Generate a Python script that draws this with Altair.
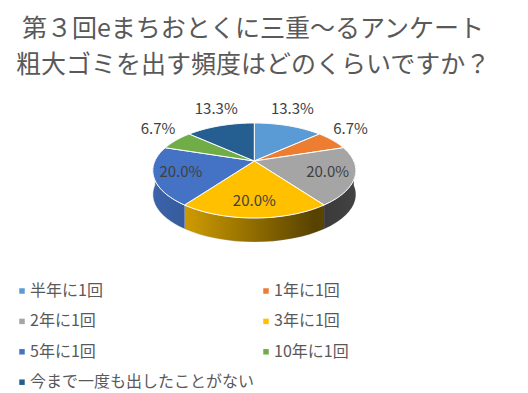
import altair as alt
import pandas as pd

categories = ["半年に1回", "1年に1回", "2年に1回", "3年に1回", "5年に1回", "10年に1回", "今まで一度も出したことがない"]
values = [13.3, 6.7, 20.0, 20.0, 20.0, 6.7, 13.3]
labels = ["13.3%", "6.7%", "20.0%", "20.0%", "20.0%", "6.7%", "13.3%"]
colors = ["#5B9BD5", "#ED7D31", "#A5A5A5", "#FFC000", "#4472C4", "#70AD47", "#255E91"]
title_lines = ["第３回eまちおとくに三重～るアンケート", "粗大ゴミを出す頻度はどのくらいですか？"]

df = pd.DataFrame({"cat": categories, "value": values, "label": labels,
                   "order": list(range(len(categories)))})

FONT = "Noto Sans CJK JP"
W, H = 512, 301
PAD_TOP = 84
CX, CY = 246.3, 69.0      # pie centre (plot coords)
A, B, D = 99.45, 45.6, 5.0  # perspective ellipse parameters
DEPTH = 24
N = 40


def proj(prefix, ang, r, shift="0"):
    u = f"(({r})*sin({ang}))"
    v = f"(-({r})*cos({ang}))"
    f = f"({D}/({D}-{v}))"
    return {prefix + "x": f"{CX}+{A}*{u}*{f}",
            prefix + "y": f"{CY}+{B}*{v}*{f}+({shift})"}


xs = alt.X("px:Q", scale=alt.Scale(domain=[0, W], nice=False, zero=False), axis=None)
ys = alt.Y("py:Q", scale=alt.Scale(domain=[0, H], nice=False, zero=False, reverse=True), axis=None)

legend = alt.Legend(title=None, orient="none", legendX=3, legendY=191, columns=2,
                    direction="horizontal",
                    symbolType="square", symbolSize=30, symbolStrokeWidth=0, symbolOffset=3,
                    labelFont=FONT, labelFontSize=16, labelColor="#595959",
                    labelLimit=300, rowPadding=14.4, columnPadding=0, labelOffset=0,
                    padding=0)
color = alt.Color("cat:N", scale=alt.Scale(domain=categories, range=colors),
                  sort=categories, legend=legend)

base = (alt.Chart(df)
        .transform_joinaggregate(total="sum(value)")
        .transform_window(cum="sum(value)", sort=[alt.SortField("order")], frame=[None, 0])
        .transform_calculate(a0="2*PI*(datum.cum-datum.value)/datum.total",
                             a1="2*PI*datum.cum/datum.total"))


def wall_geom(ch):
    return (ch.transform_filter("datum.w0 < datum.w1")
            .transform_calculate(idx=f"sequence(0,{2 * N + 2})")
            .transform_flatten(["idx"])
            .transform_calculate(bot=f"datum.idx>{N}?1:0",
                                 t=f"datum.idx<={N}?datum.idx/{N}:({2 * N + 1}-datum.idx)/{N}")
            .transform_calculate(ang="datum.w0+(datum.w1-datum.w0)*datum.t")
            .transform_calculate(**proj("p", "datum.ang", "1", f"datum.bot*{DEPTH}")))


walls = wall_geom(base.transform_calculate(w0="max(datum.a0, PI/2)",
                                           w1="min(datum.a1, 3*PI/2)")).mark_line(
    filled=True, stroke="white", strokeWidth=0.8, strokeJoin="round"
).encode(x=xs, y=ys, order="idx:Q", detail="cat:N", color=color)

shade = wall_geom(alt.Chart(df).transform_aggregate(n="count()")
                  .transform_calculate(w0="PI/2", w1="3*PI/2")).mark_line(
    filled=True, strokeWidth=0,
    fill=alt.LinearGradient(gradient="linear", x1=0, x2=1, y1=0, y2=0, stops=[
        alt.GradientStop(color="rgba(0,0,0,0.13)", offset=0),
        alt.GradientStop(color="rgba(0,0,0,0.22)", offset=0.2),
        alt.GradientStop(color="rgba(0,0,0,0.66)", offset=0.8),
        alt.GradientStop(color="rgba(0,0,0,0.6)", offset=1),
    ])
).encode(x=xs, y=ys, order="idx:Q")

tops = (base.transform_calculate(idx=f"sequence(0,{N + 3})")
        .transform_flatten(["idx"])
        .transform_calculate(r=f"(datum.idx==0||datum.idx=={N + 2})?0:1",
                             ang=f"datum.a0+(datum.a1-datum.a0)*clamp((datum.idx-1)/{N},0,1)")
        .transform_calculate(**proj("p", "datum.ang", "datum.r"))
        ).mark_line(filled=True, stroke="white", strokeWidth=1, strokeJoin="round").encode(
    x=xs, y=ys, order="idx:Q", detail="cat:N", color=color)

texts = (base.transform_calculate(mid="(datum.a0+datum.a1)/2",
                                  inside="datum.value/datum.total>=0.15")
         .transform_calculate(rr="datum.inside?0.74:1")
         .transform_calculate(**proj("e", "datum.mid", "datum.rr"))
         .transform_calculate(
             px="datum.ex+(datum.inside?0:24*sin(datum.mid)*abs(sin(datum.mid)))",
             py="datum.ey-(datum.inside?0:(14*cos(datum.mid)+(cos(datum.mid)>=0?4:-4)))")
         ).mark_text(font=FONT, fontSize=15, color="#404040", align="center",
                     baseline="middle").encode(x=xs, y=ys, text="label:N")

chart = alt.layer(walls, shade, tops, texts).properties(
    width=W, height=H,
    autosize=alt.AutoSizeParams(type="none"),
    padding={"left": 0, "right": 0, "top": PAD_TOP, "bottom": 0},
    title=alt.TitleParams(text=title_lines, font=FONT, fontSize=25, color="#595959",
                          fontWeight="normal", lineHeight=36, anchor="middle",
                          dx=-11, offset=14),
    background="white",
).configure_view(stroke=None)

chart.save("out.html", embed_options={"renderer": "svg", "actions": False})
